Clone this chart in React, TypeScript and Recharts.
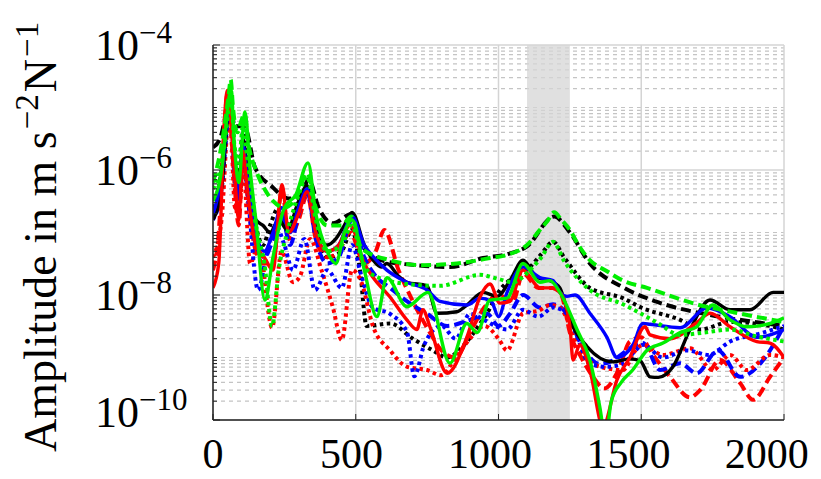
import React from 'react';
import { LineChart, Line, XAxis, YAxis, CartesianGrid, ReferenceArea, Label } from 'recharts';

const FONT = '"Liberation Serif", "DejaVu Serif", serif';

// Axis ticks and shaded frequency band
const xTicks = [0, 500, 1000, 1500, 2000];
const yDecadeExponents = [-10, -9, -8, -7, -6, -5];
const yLabelExponents = [-10, -8, -6, -4];
const bandHz = [1100, 1250];

// Frequency responses (Hz, m s^-2 N^-1)
const blackSolidHz = [0, 30, 55, 62, 75, 90, 105, 120, 150, 175, 200, 230, 260, 300, 330, 360, 400, 430, 460, 487, 530, 561, 590, 609, 650, 679, 750, 784, 854, 889, 946, 995, 1040, 1086, 1135, 1180, 1215, 1250, 1310, 1401, 1460, 1496, 1531, 1560, 1611, 1671, 1741, 1811, 1881, 1962, 2000];
const blackSolidAmp = [1.6e-7, 5.0e-7, 1e-5, 1.3e-5, 1.6e-6, 5.0e-7, 3.2e-6, 1e-6, 1.6e-7, 1.3e-7, 1e-7, 1.6e-7, 1.1e-7, 3.2e-7, 5.6e-7, 1.3e-7, 6.3e-8, 7.9e-8, 1.3e-7, 2.1e-7, 6.3e-8, 3.6e-8, 2.8e-8, 3.2e-8, 2.0e-8, 1.6e-8, 1.4e-8, 5.1e-9, 5.4e-9, 6.9e-9, 1.1e-8, 9.5e-9, 1.7e-8, 3.6e-8, 1.9e-8, 1.7e-8, 1.3e-8, 4.0e-9, 1.5e-9, 8.5e-10, 9.5e-10, 8.9e-10, 4.9e-10, 4.8e-10, 7.1e-10, 2.8e-9, 8.3e-9, 5.8e-9, 5.8e-9, 1.1e-8, 1.1e-8];

const blackDashedHz = [0, 25, 50, 60, 75, 100, 115, 147, 207, 263, 305, 335, 370, 420, 487, 520, 600, 714, 830, 946, 1030, 1100, 1195, 1250, 1320, 1440, 1550, 1740, 1880, 2000];
const blackDashedAmp = [2.3e-6, 3.2e-6, 1e-5, 1.6e-5, 5.0e-6, 5.0e-6, 4.5e-6, 1.1e-6, 5.4e-7, 3.5e-7, 3.7e-7, 7.1e-7, 2.5e-7, 1.4e-7, 2.0e-7, 6.3e-8, 3.5e-8, 3.0e-8, 2.8e-8, 3.9e-8, 4.5e-8, 6.0e-8, 1.8e-7, 1e-7, 3.2e-8, 1.3e-8, 7.9e-9, 4.8e-9, 3.8e-9, 3.2e-9];

const blackDottedHz = [0, 30, 55, 62, 75, 90, 105, 120, 150, 175, 200, 230, 260, 300, 330, 360, 400, 450, 487, 515, 538, 620, 700, 770, 820, 880, 930, 960, 1005, 1050, 1110, 1150, 1191, 1230, 1320, 1436, 1500, 1636, 1706, 1811, 1951, 2000];
const blackDottedAmp = [2.5e-7, 1e-6, 1.3e-5, 1.6e-5, 2.0e-6, 1e-6, 4.0e-6, 1.3e-6, 1.3e-7, 6.3e-8, 1.3e-7, 2.5e-7, 1.3e-7, 3.2e-7, 5.0e-7, 1e-7, 4.0e-8, 5.0e-8, 1.1e-7, 2.5e-8, 3.2e-9, 3.5e-9, 2.0e-9, 1.3e-9, 1.0e-9, 1.6e-9, 3.2e-9, 5.1e-9, 1.2e-8, 1.9e-8, 2.8e-8, 4.5e-8, 7.1e-8, 4.0e-8, 1.3e-8, 8.9e-9, 6.3e-9, 4.0e-9, 2.8e-9, 3.7e-9, 3.2e-9, 2.8e-9];

const blueSolidHz = [0, 30, 55, 62, 75, 90, 105, 120, 150, 180, 210, 240, 270, 300, 330, 360, 400, 440, 487, 530, 561, 609, 679, 750, 795, 889, 935, 975, 1000, 1030, 1086, 1145, 1191, 1215, 1240, 1268, 1320, 1380, 1415, 1471, 1506, 1531, 1636, 1730, 1811, 1905, 2000];
const blueSolidAmp = [2.0e-7, 7.9e-7, 1e-5, 1.1e-5, 1.3e-6, 4.0e-7, 2.5e-6, 7.9e-7, 1e-7, 5.0e-8, 1e-7, 2.5e-7, 1e-7, 2.5e-7, 5.0e-7, 1e-7, 5.0e-8, 6.3e-8, 1.8e-7, 6.3e-8, 4.1e-8, 2.5e-8, 1.6e-8, 1.2e-8, 7.9e-9, 6.9e-9, 8.9e-9, 7.9e-9, 4.5e-9, 1.1e-8, 2.8e-8, 1.9e-8, 1.7e-8, 1.1e-8, 9.5e-9, 1.0e-8, 5.1e-9, 2.1e-9, 1.0e-9, 1.6e-9, 3.5e-9, 3.4e-9, 3.0e-9, 6.2e-9, 4.5e-9, 2.1e-9, 2.8e-9];

const blueDashedHz = [0, 30, 55, 62, 75, 90, 105, 120, 150, 180, 210, 240, 270, 300, 330, 360, 400, 440, 487, 530, 570, 620, 680, 750, 820, 900, 960, 1000, 1040, 1086, 1145, 1191, 1240, 1290, 1355, 1400, 1450, 1506, 1566, 1636, 1694, 1769, 1846, 1927, 2000];
const blueDashedAmp = [1.8e-7, 6.3e-7, 8.9e-6, 1e-5, 1e-6, 3.2e-7, 2.2e-6, 6.3e-7, 6.3e-8, 4.0e-8, 7.9e-8, 2.0e-7, 6.3e-8, 2.0e-7, 4.5e-7, 7.9e-8, 3.2e-8, 4.0e-8, 1.6e-7, 4.0e-8, 2.0e-8, 1.3e-8, 7.9e-9, 5.0e-9, 3.2e-9, 4.0e-9, 5.0e-9, 3.2e-9, 5.0e-9, 1e-8, 6.3e-9, 7.1e-9, 5.0e-9, 1.6e-9, 7.9e-10, 8.9e-10, 1.3e-9, 1.7e-9, 6.3e-10, 8.1e-10, 5.6e-10, 1.3e-9, 4.9e-10, 9.1e-10, 3.2e-9];

const blueDottedHz = [0, 30, 55, 62, 75, 90, 105, 120, 158, 190, 220, 250, 280, 320, 357, 400, 451, 487, 520, 560, 620, 680, 705, 740, 800, 850, 900, 950, 995, 1030, 1086, 1140, 1191, 1240, 1270, 1320, 1380, 1436, 1480, 1506, 1576, 1660, 1736, 1811, 1927, 2000];
const blueDottedAmp = [1.6e-7, 5.0e-7, 7.9e-6, 1e-5, 1e-6, 3.2e-7, 2.0e-6, 5.0e-7, 1.2e-8, 5.0e-8, 1.3e-7, 6.3e-8, 2.5e-8, 7.9e-8, 1.2e-8, 2.5e-8, 1.3e-8, 6.3e-8, 2.0e-8, 6.3e-9, 5.0e-9, 2.5e-9, 5.0e-10, 1.6e-9, 3.2e-9, 2.0e-9, 5.0e-9, 4.0e-9, 3.1e-9, 2.8e-9, 5.8e-9, 4.5e-9, 6.3e-9, 5.0e-9, 2.5e-9, 7.9e-10, 7.1e-10, 7.9e-10, 1.3e-9, 1.6e-9, 1e-9, 1.3e-9, 1.1e-9, 1.8e-9, 2.5e-9, 3.2e-9];

const redSolidHz = [0, 20, 40, 50, 62, 75, 90, 105, 120, 150, 180, 210, 242, 265, 300, 330, 360, 400, 440, 480, 530, 561, 620, 679, 714, 735, 760, 820, 889, 935, 970, 1005, 1040, 1086, 1145, 1180, 1215, 1250, 1261, 1285, 1320, 1366, 1415, 1460, 1513, 1531, 1601, 1694, 1741, 1811, 1905, 1951, 2000];
const redSolidAmp = [1.3e-8, 3.2e-8, 6.3e-6, 1.9e-5, 6.3e-6, 1e-6, 1.6e-7, 2.0e-6, 5.0e-7, 6.3e-8, 4.0e-8, 2.5e-8, 5.8e-7, 1e-7, 2.0e-7, 4.5e-7, 1e-7, 5.0e-8, 6.3e-8, 1.3e-7, 3.2e-8, 1.9e-8, 9.3e-9, 4.0e-9, 2.8e-9, 5.8e-9, 3.1e-9, 5.6e-10, 2.1e-9, 9.3e-9, 1.5e-8, 7.4e-9, 7.9e-9, 2.5e-8, 1.3e-8, 1.3e-8, 1.1e-8, 3.2e-9, 9.1e-10, 1.6e-9, 6.3e-10, 7.9e-11, 4.4e-10, 1.0e-9, 3.1e-9, 2.3e-9, 2.0e-9, 3.6e-9, 5.1e-9, 3.1e-9, 1.8e-9, 1.7e-9, 1.0e-9];

const redDashedHz = [0, 20, 40, 50, 62, 75, 90, 105, 120, 150, 180, 210, 242, 265, 300, 330, 360, 400, 440, 480, 530, 570, 600, 650, 700, 760, 800, 850, 900, 950, 1000, 1050, 1086, 1140, 1190, 1220, 1250, 1290, 1330, 1370, 1420, 1460, 1500, 1531, 1601, 1671, 1706, 1776, 1846, 1892, 1951, 2000];
const redDashedAmp = [2.5e-8, 1e-7, 5.0e-6, 1.6e-5, 5.0e-6, 6.3e-7, 1.3e-7, 1.6e-6, 4.0e-7, 5.0e-8, 3.2e-8, 3.2e-8, 5.0e-7, 7.9e-8, 1.6e-7, 4.0e-7, 7.9e-8, 4.0e-8, 5.0e-8, 1e-7, 3.2e-8, 5.0e-8, 1.1e-7, 2.5e-8, 7.9e-9, 2.5e-9, 1.3e-9, 1e-9, 2.5e-9, 6.3e-9, 1e-8, 7.9e-9, 2.2e-8, 1.3e-8, 1.3e-8, 1e-8, 2.5e-9, 1e-9, 5.0e-10, 3.2e-10, 6.3e-10, 1.8e-9, 2.1e-9, 1.3e-9, 4.9e-10, 2.3e-10, 3.0e-10, 9.1e-10, 3.9e-10, 2.1e-10, 4.9e-10, 1.0e-9];

const redDottedHz = [0, 30, 55, 62, 77, 95, 105, 130, 160, 207, 240, 280, 305, 340, 380, 420, 451, 487, 520, 560, 620, 680, 750, 800, 850, 900, 950, 1000, 1030, 1086, 1140, 1180, 1215, 1250, 1277, 1355, 1436, 1480, 1506, 1576, 1671, 1751, 1811, 1870, 1951, 2000];
const redDottedAmp = [4.0e-8, 1.6e-7, 6.3e-6, 5.0e-6, 2.5e-7, 3.2e-7, 1.3e-6, 3.2e-8, 6.3e-8, 3.0e-9, 5.0e-8, 1.6e-8, 2.0e-8, 7.9e-8, 2.5e-8, 6.3e-9, 1.9e-9, 2.5e-8, 1.6e-8, 3.2e-9, 1.3e-9, 7.1e-10, 6.3e-10, 5.2e-10, 1e-9, 2.0e-9, 3.2e-9, 2.0e-9, 1.3e-9, 5.1e-9, 5.6e-9, 6.9e-9, 6.3e-9, 3.2e-9, 1.5e-9, 7.1e-10, 6.3e-10, 1.3e-9, 1.6e-9, 1.1e-9, 1.4e-9, 6.3e-10, 1.1e-9, 6.3e-10, 1.1e-9, 1e-9];

const greenSolidHz = [0, 30, 55, 62, 75, 90, 112, 130, 150, 182, 210, 250, 290, 333, 360, 400, 430, 460, 487, 530, 574, 609, 679, 753, 830, 889, 925, 970, 1030, 1086, 1145, 1180, 1215, 1275, 1320, 1355, 1375, 1395, 1430, 1470, 1520, 1576, 1636, 1694, 1751, 1811, 1870, 1951, 2000];
const greenSolidAmp = [3.2e-7, 1e-6, 1.3e-5, 2.0e-5, 2.5e-6, 6.3e-7, 8.5e-6, 1e-6, 1.6e-7, 8.3e-9, 4.0e-8, 2.5e-7, 4.0e-7, 1.3e-6, 2.0e-7, 5.0e-8, 3.2e-8, 1e-7, 1.6e-7, 2.5e-8, 4.5e-9, 1.9e-8, 6.5e-9, 1.1e-8, 8.1e-10, 3.5e-9, 2.5e-9, 8.3e-9, 8.9e-9, 3.2e-8, 1.6e-8, 1.7e-8, 1.1e-8, 2.8e-9, 9.1e-10, 1.6e-10, 5.0e-11, 2.0e-10, 4.0e-10, 6.3e-10, 1.3e-9, 1.7e-9, 2.5e-9, 3.1e-9, 6.9e-9, 4.0e-9, 3.1e-9, 3.5e-9, 4.3e-9];

const greenDashedHz = [0, 30, 55, 62, 70, 85, 100, 110, 125, 150, 180, 210, 250, 290, 330, 360, 400, 450, 485, 520, 620, 735, 854, 970, 1030, 1100, 1145, 1170, 1195, 1220, 1250, 1280, 1320, 1380, 1436, 1520, 1694, 1850, 2000];
const greenDashedAmp = [6.3e-7, 2.5e-6, 1.6e-5, 2.8e-5, 1e-5, 4.0e-6, 6.3e-6, 7.9e-6, 2.5e-6, 1e-6, 5.0e-7, 3.2e-7, 2.5e-7, 3.5e-7, 8.9e-7, 2.5e-7, 1.3e-7, 1.3e-7, 1.8e-7, 5.6e-8, 3.6e-8, 3.0e-8, 3.2e-8, 3.9e-8, 4.4e-8, 6.3e-8, 1.1e-7, 1.5e-7, 2.1e-7, 1.6e-7, 1.1e-7, 6.3e-8, 3.6e-8, 2.4e-8, 1.7e-8, 1.3e-8, 7.1e-9, 5.0e-9, 3.7e-9];

const greenDottedHz = [0, 30, 55, 62, 75, 90, 105, 120, 150, 180, 207, 230, 260, 300, 330, 360, 400, 450, 487, 520, 550, 679, 795, 935, 1000, 1050, 1110, 1150, 1191, 1230, 1320, 1436, 1500, 1560, 1636, 1720, 1811, 1900, 2000];
const greenDottedAmp = [5.0e-7, 1.3e-6, 1e-5, 2.0e-5, 2.5e-6, 1.3e-6, 5.0e-6, 1.6e-6, 1.3e-7, 3.2e-8, 3.2e-9, 2.5e-8, 1e-7, 4.0e-7, 7.9e-7, 1.6e-7, 5.0e-8, 6.3e-8, 1.3e-7, 4.0e-8, 2.2e-8, 1.5e-8, 1.4e-8, 2.1e-8, 1.8e-8, 1.6e-8, 2.5e-8, 4.0e-8, 7.1e-8, 3.5e-8, 1.2e-8, 7.1e-9, 5.0e-9, 3.5e-9, 2.3e-9, 2.5e-9, 2.8e-9, 2.2e-9, 1.8e-9];

const toPoints = (hz: number[], amp: number[]) => hz.map((f, i) => ({ f, a: amp[i] }));

const SOLID = 'solid';
const DASHED = 'dashed';
const DOTTED = 'dotted';

const strokeStyle: Record<string, { width: number; dash?: string }> = {
  solid: { width: 3.4 },
  dashed: { width: 4, dash: '10 5' },
  dotted: { width: 4, dash: '3.5 3.5' },
};

// Drawing order: first entry is at the bottom
const curves = [
  { id: 'black-dashed', hz: blackDashedHz, amp: blackDashedAmp, color: '#000000', style: DASHED },
  { id: 'black-dotted', hz: blackDottedHz, amp: blackDottedAmp, color: '#000000', style: DOTTED },
  { id: 'red-dashed', hz: redDashedHz, amp: redDashedAmp, color: '#ff0000', style: DASHED },
  { id: 'blue-dashed', hz: blueDashedHz, amp: blueDashedAmp, color: '#0000ff', style: DASHED },
  { id: 'red-dotted', hz: redDottedHz, amp: redDottedAmp, color: '#ff0000', style: DOTTED },
  { id: 'blue-dotted', hz: blueDottedHz, amp: blueDottedAmp, color: '#0000ff', style: DOTTED },
  { id: 'black-solid', hz: blackSolidHz, amp: blackSolidAmp, color: '#000000', style: SOLID },
  { id: 'blue-solid', hz: blueSolidHz, amp: blueSolidAmp, color: '#0000ff', style: SOLID },
  { id: 'red-solid', hz: redSolidHz, amp: redSolidAmp, color: '#ff0000', style: SOLID },
  { id: 'green-dotted', hz: greenDottedHz, amp: greenDottedAmp, color: '#00ee00', style: DOTTED },
  { id: 'green-dashed', hz: greenDashedHz, amp: greenDashedAmp, color: '#00ee00', style: DASHED },
  { id: 'green-solid', hz: greenSolidHz, amp: greenSolidAmp, color: '#00ee00', style: SOLID },
];

// All log ticks: 1..9 within each decade, plus the top bound
const yTicks: number[] = [];
yDecadeExponents.forEach((e) => {
  for (let k = 1; k <= 9; k++) yTicks.push(k * Math.pow(10, e));
});
yTicks.push(Math.pow(10, -4));

const isLabelled = (v: number) => {
  const e = Math.log10(v);
  const r = Math.round(e);
  return Math.abs(e - r) < 1e-6 && yLabelExponents.includes(r);
};

const PLOT_LEFT = 213;

const YTick = (props: any) => {
  const { x, y, payload } = props;
  const v = payload.value as number;
  const major = isLabelled(v);
  const exp = Math.round(Math.log10(v));
  const lift = exp === -10 ? 8 : 0;
  return (
    <g>
      <line x1={x} x2={x + (major ? 7 : 4)} y1={y} y2={y} stroke="#222" strokeWidth={1} />
      {major && (
        <text x={x - 118} y={y + 15 - lift} fontFamily={FONT} fontSize={44} fill="#000">
          10
          <tspan dy={-17} fontSize={31}>{`\u2212${Math.abs(exp)}`}</tspan>
        </text>
      )}
    </g>
  );
};

const XTick = (props: any) => {
  const { x, y, payload } = props;
  const shift = -(x - PLOT_LEFT) * 0.03;
  return (
    <g>
      <line x1={x} x2={x} y1={y} y2={y - 6} stroke="#222" strokeWidth={1} />
      <text x={x + shift} y={y + 48} textAnchor="middle" fontFamily={FONT} fontSize={42} fill="#000">
        {payload.value}
      </text>
    </g>
  );
};

const HLine = (p: any) => {
  const i = p.index ?? 0;
  const major = i % 9 === 0 && Math.floor(i / 9) % 2 === 0;
  return (
    <line
      key={`h-${i}`}
      x1={p.x1}
      x2={p.x2}
      y1={p.y1}
      y2={p.y2}
      stroke={major ? '#d4d4d4' : '#c4c4c4'}
      strokeWidth={major ? 1.5 : 1.2}
      strokeDasharray={major ? undefined : '4 4'}
    />
  );
};

const VLine = (p: any) => (
  <line key={`v-${p.index}`} x1={p.x1} x2={p.x2} y1={p.y1} y2={p.y2} stroke="#d4d4d4" strokeWidth={1.5} />
);

const AxisTitle = () => (
  <text
    x={56}
    y={452}
    transform="rotate(-90 56 452)"
    fontFamily={FONT}
    fontSize={46}
    fill="#000"
  >
    Amplitude in m s
    <tspan dx={2} dy={-18} fontSize={33}>{'\u22122'}</tspan>
    <tspan dx={2} dy={18}>N</tspan>
    <tspan dx={2} dy={-18} fontSize={33}>{'\u22121'}</tspan>
  </text>
);

export default function App() {
  return (
    <div style={{ position: 'absolute', left: 0, top: 0, width: 821, height: 479, background: '#fff' }}>
      <LineChart width={821} height={479} margin={{ top: 45, right: 37, bottom: 0, left: 0 }}>
        <CartesianGrid horizontal={HLine} vertical={VLine} />
        <ReferenceArea
          x1={bandHz[0]}
          x2={bandHz[1]}
          fill="#d6d6d6"
          fillOpacity={0.75}
          stroke="none"
          ifOverflow="hidden"
        />
        <XAxis
          dataKey="f"
          type="number"
          domain={[0, 2000]}
          ticks={xTicks}
          interval={0}
          height={59}
          tickSize={0}
          tickMargin={0}
          tickLine={false}
          tick={<XTick />}
          axisLine={{ stroke: '#222', strokeWidth: 1.5 }}
          allowDataOverflow
        />
        <YAxis
          type="number"
          scale="log"
          domain={[1e-10, 1e-4]}
          ticks={yTicks}
          interval={0}
          width={213}
          tickSize={0}
          tickMargin={0}
          tickLine={false}
          tick={<YTick />}
          axisLine={{ stroke: '#222', strokeWidth: 1.5 }}
          allowDataOverflow
        >
          <Label content={<AxisTitle />} />
        </YAxis>
        {curves.map((c) => (
          <Line
            key={c.id}
            data={toPoints(c.hz, c.amp)}
            dataKey="a"
            type="monotone"
            stroke={c.color}
            strokeWidth={strokeStyle[c.style].width}
            strokeDasharray={strokeStyle[c.style].dash}
            dot={false}
            activeDot={false}
            isAnimationActive={false}
          />
        ))}
      </LineChart>
    </div>
  );
}
